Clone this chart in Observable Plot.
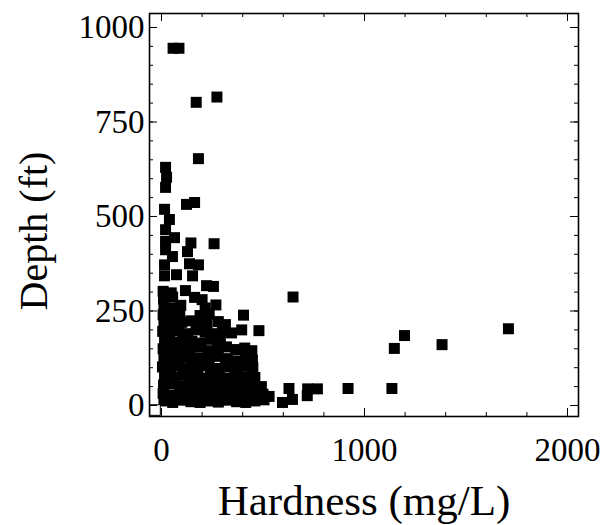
<!DOCTYPE html>
<html><head><meta charset="utf-8">
<script src="https://cdn.jsdelivr.net/npm/d3@7"></script>
<script src="https://cdn.jsdelivr.net/npm/@observablehq/plot@0.6"></script>
<style>body{margin:0;background:#fff} #chart{width:602px;height:525px}</style>
</head><body><div id="chart"></div>
<script>
// Axis titles and tick values
const xTitle = "Hardness (mg/L)";
const yTitle = "Depth (ft)";
const xTickLabels = [0, 1000, 2000];
const xMinorTicks = [0, 200, 400, 600, 800, 1000, 1200, 1400, 1600, 1800, 2000];
const yTickLabels = [0, 250, 500, 750, 1000];
const yMinorTicks = [0, 50, 100, 150, 200, 250, 300, 350, 400, 450, 500, 550, 600, 650, 700, 750, 800, 850, 900, 950, 1000];

// Wells: [hardness (mg/L), depth (ft)]
const deepWells = [
  [57, 945], [86, 945], [171, 802], [273, 816], [182, 653],
  [20, 630], [25, 604], [20, 577], [123, 532], [163, 537],
  [15, 519], [39, 492], [20, 465], [64, 444], [20, 434],
  [145, 430], [259, 428], [20, 412], [54, 394], [128, 407],
  [138, 375], [15, 372], [15, 343], [74, 346], [182, 372], [153, 343],
  [222, 317], [256, 315], [118, 304], [163, 286], [268, 266],
  [404, 239], [480, 198], [395, 200], [648, 287]
];
const shallowWells = [
  [8, 302], [48, 298],
  [10, 282], [55, 287], [200, 280],
  [12, 262], [50, 258], [95, 265], [215, 258],
  [8, 240], [45, 236], [90, 244], [190, 238], [235, 242],
  [12, 218], [58, 214], [100, 220], [145, 224], [180, 212], [225, 218], [280, 222], [315, 214],
  [6, 196], [40, 192], [85, 198], [130, 190], [170, 200], [215, 194], [260, 190], [300, 198], [345, 192],
  [15, 172], [60, 168], [105, 175], [150, 170], [195, 165], [240, 175], [290, 170],
  [8, 150], [50, 146], [95, 152], [140, 148], [185, 155], [230, 145], [275, 150], [320, 155], [365, 148], [410, 152], [445, 145],
  [12, 126], [55, 122], [100, 128], [145, 120], [190, 126], [235, 122], [280, 130], [325, 124], [370, 118], [415, 126], [448, 120],
  [5, 102], [45, 98], [90, 104], [135, 96], [180, 100], [225, 106], [270, 98], [315, 102], [360, 96], [405, 104], [450, 100],
  [15, 78], [60, 74], [105, 80], [150, 76], [195, 72], [240, 80], [285, 76], [330, 72], [375, 80], [420, 76], [460, 74],
  [10, 54], [50, 58], [95, 52], [140, 56], [185, 50], [230, 58], [275, 54], [320, 50], [365, 56], [410, 52], [455, 56], [492, 50],
  [8, 32], [45, 28], [90, 34], [135, 30], [180, 26], [225, 34], [270, 30], [315, 28], [360, 32], [405, 26], [450, 34], [500, 30], [530, 24],
  [12, 12], [55, 8], [100, 14], [145, 10], [190, 8], [235, 12], [280, 9], [325, 14], [370, 10], [415, 8], [460, 12], [505, 15]
];
const hardWells = [
  [628, 45], [720, 44], [768, 44], [718, 26], [919, 45], [1135, 45],
  [596, 8], [645, 16], [1147, 151], [1197, 185], [1382, 161], [1709, 203]
];
const openMarker = [[-32, -12]];

const W = 602, H = 525, mt = 13, mr = 24, mb = 109, ml = 149;
const iw = W - ml - mr, ih = H - mt - mb;
const majorLen = 8, minorLen = 4;

const rows = [...deepWells, ...shallowWells, ...hardWells].map(([h, d]) => ({h, d}));
const openRows = openMarker.map(([h, d]) => ({h, d}));

const chart = Plot.plot({
  width: W, height: H,
  marginTop: mt, marginRight: mr, marginBottom: mb, marginLeft: ml,
  style: {fontFamily: "'Liberation Serif', 'Times New Roman', serif", fontSize: "33px", color: "black", background: "white"},
  x: {domain: [-59.1, 2054.2], axis: null},
  y: {domain: [-29.1, 1037], axis: null},
  marks: [
    Plot.dot(rows, {x: "h", y: "d", symbol: "square", r: 6.2, fill: "black", stroke: null}),
    Plot.dot(openRows, {x: "h", y: "d", symbol: "square", r: 6.0, fill: "white", stroke: "black", strokeWidth: 1}),
    Plot.tickX(xMinorTicks, {x: d => d, insetTop: ih - minorLen, stroke: "black"}),
    Plot.tickX(xMinorTicks, {x: d => d, insetBottom: ih - minorLen, stroke: "black"}),
    Plot.tickX(xTickLabels, {x: d => d, insetTop: ih - majorLen, stroke: "black"}),
    Plot.tickX(xTickLabels, {x: d => d, insetBottom: ih - majorLen, stroke: "black"}),
    Plot.tickY(yMinorTicks, {y: d => d, insetRight: iw - minorLen, stroke: "black"}),
    Plot.tickY(yMinorTicks, {y: d => d, insetLeft: iw - minorLen, stroke: "black"}),
    Plot.tickY(yTickLabels, {y: d => d, insetRight: iw - majorLen, stroke: "black"}),
    Plot.tickY(yTickLabels, {y: d => d, insetLeft: iw - majorLen, stroke: "black"}),
    Plot.axisX(xTickLabels, {anchor: "bottom", tickSize: 0, tickPadding: 21, label: null, fontSize: 33, tickFormat: d => `${d}`}),
    Plot.axisY(yTickLabels, {anchor: "left", tickSize: 0, tickPadding: 5, label: null, fontSize: 33, tickFormat: d => `${d}`}),
    Plot.frame({stroke: "black", strokeWidth: 1.6}),
    Plot.text([xTitle], {text: d => d, frameAnchor: "bottom", textAnchor: "middle", lineAnchor: "middle", dy: 85, fontSize: 43}),
    Plot.text([yTitle], {text: d => d, frameAnchor: "left", textAnchor: "middle", lineAnchor: "middle", rotate: -90, dx: -115, dy: 16, fontSize: 40})
  ]
});
document.getElementById("chart").appendChild(chart);
</script>
</body></html>
